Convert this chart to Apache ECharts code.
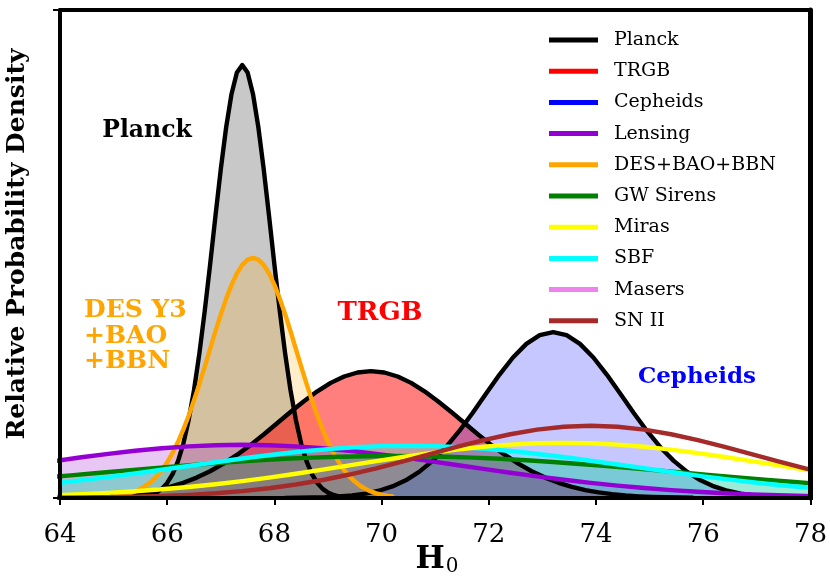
<!DOCTYPE html>
<html>
<head>
<meta charset="utf-8">
<script src="https://cdn.jsdelivr.net/npm/echarts@6.0.0/dist/echarts.min.js"></script>
<style>
  html, body { margin: 0; padding: 0; background: #fff; }
  #h0 { width: 830px; height: 578px; }
</style>
</head>
<body>
<div id="h0"></div>
<script>
// H0 sample points, one list per group of curves
var planckH0 = [65.2, 65.3, 65.4, 65.5, 65.6, 65.7, 65.8, 65.9, 66, 66.1, 66.2, 66.3, 66.4, 66.5, 66.6,
                66.7, 66.8, 66.9, 67, 67.1, 67.2, 67.3, 67.4, 67.5, 67.6, 67.7, 67.8, 67.9, 68, 68.1,
                68.2, 68.3, 68.4, 68.5, 68.6, 68.7, 68.8, 68.9, 69, 69.1, 69.2, 69.3, 69.4, 69.5, 69.6];
var desH0 = [65, 65.1, 65.2, 65.3, 65.4, 65.5, 65.6, 65.7, 65.8, 65.9, 66, 66.1, 66.2, 66.3, 66.4,
             66.5, 66.6, 66.7, 66.8, 66.9, 67, 67.1, 67.2, 67.3, 67.4, 67.5, 67.6, 67.7, 67.8, 67.9,
             68, 68.1, 68.2, 68.3, 68.4, 68.5, 68.6, 68.7, 68.8, 68.9, 69, 69.1, 69.2, 69.3, 69.4,
             69.5, 69.6, 69.7, 69.8, 69.9, 70, 70.1, 70.2];
var trgbH0 = [63.8, 64.05, 64.3, 64.55, 64.8, 65.05, 65.3, 65.55, 65.8, 66.05, 66.3, 66.55, 66.8,
              67.05, 67.3, 67.55, 67.8, 68.05, 68.3, 68.55, 68.8, 69.05, 69.3, 69.55, 69.8, 70.05,
              70.3, 70.55, 70.8, 71.05, 71.3, 71.55, 71.8, 72.05, 72.3, 72.55, 72.8, 73.05, 73.3,
              73.55, 73.8, 74.05, 74.3, 74.55, 74.8, 75.05, 75.3, 75.55, 75.8];
var cephH0 = [68.2, 68.45, 68.7, 68.95, 69.2, 69.45, 69.7, 69.95, 70.2, 70.45, 70.7, 70.95, 71.2,
              71.45, 71.7, 71.95, 72.2, 72.45, 72.7, 72.95, 73.2, 73.45, 73.7, 73.95, 74.2, 74.45,
              74.7, 74.95, 75.2, 75.45, 75.7, 75.95, 76.2, 76.45, 76.7, 76.95, 77.2, 77.45, 77.7,
              77.95, 78.2];
var gridA = [63.7, 64.2, 64.7, 65.2, 65.7, 66.2, 66.7, 67.2, 67.7, 68.2, 68.7, 69.2, 69.7, 70.2, 70.7,
             71.2, 71.7, 72.2, 72.7, 73.2, 73.7, 74.2, 74.7, 75.2, 75.7, 76.2, 76.7, 77.2, 77.7, 78.2];
var gridC = [63.9, 64.4, 64.9, 65.4, 65.9, 66.4, 66.9, 67.4, 67.9, 68.4, 68.9, 69.4, 69.9, 70.4, 70.9,
             71.4, 71.9, 72.4, 72.9, 73.4, 73.9, 74.4, 74.9, 75.4, 75.9, 76.4, 76.9, 77.4, 77.9, 78.4];
var gridD = [64, 64.5, 65, 65.5, 66, 66.5, 67, 67.5, 68, 68.5, 69, 69.5, 70, 70.5, 71,
             71.5, 72, 72.5, 73, 73.5, 74, 74.5, 75, 75.5, 76, 76.5, 77, 77.5, 78];

var planck = [0.0002, 0.0005, 0.0009, 0.0018, 0.0034, 0.0062, 0.011, 0.0187, 0.0308, 0.0489, 0.075,
              0.111, 0.160, 0.221, 0.296, 0.383, 0.478, 0.578, 0.674, 0.760, 0.828, 0.872, 0.887,
              0.872, 0.828, 0.760, 0.674, 0.578, 0.478, 0.383, 0.296, 0.221, 0.160, 0.111, 0.075,
              0.0489, 0.0308, 0.0187, 0.011, 0.0062, 0.0034, 0.0018, 0.0009, 0.0005, 0.0002];
var des = [0.0032, 0.0047, 0.0068, 0.0096, 0.0135, 0.0185, 0.0251, 0.0336, 0.0442, 0.0574, 0.0733,
           0.0923, 0.1146, 0.1401, 0.1687, 0.2001, 0.234, 0.2694, 0.3057, 0.3418, 0.3764, 0.4086,
           0.4368, 0.4602, 0.4776, 0.4884, 0.492, 0.4884, 0.4776, 0.4602, 0.4368, 0.4086, 0.3764,
           0.3418, 0.3057, 0.2694, 0.234, 0.2001, 0.1687, 0.1401, 0.1146, 0.0923, 0.0733, 0.0574,
           0.0442, 0.0336, 0.0251, 0.0185, 0.0135, 0.0096, 0.0068, 0.0047, 0.0032];
var trgb = [0.0005, 0.0009, 0.0014, 0.0022, 0.0034, 0.0052, 0.0078, 0.0114, 0.0163, 0.0228, 0.0312,
            0.0418, 0.0548, 0.0703, 0.0882, 0.1083, 0.1301, 0.1531, 0.1762, 0.1984, 0.2187, 0.2359,
            0.249, 0.2572, 0.26, 0.2572, 0.249, 0.2359, 0.2187, 0.1984, 0.1762, 0.1531, 0.1301,
            0.1083, 0.0882, 0.0703, 0.0548, 0.0418, 0.0312, 0.0228, 0.0163, 0.0114, 0.0078, 0.0052,
            0.0034, 0.0022, 0.0014, 0.0009, 0.0005];
var cepheids = [0.0002, 0.0004, 0.0009, 0.0016, 0.003, 0.0053, 0.0091, 0.0149, 0.0237, 0.0363, 0.0535,
                0.076, 0.1041, 0.1374, 0.1748, 0.2141, 0.2529, 0.2879, 0.3158, 0.3338, 0.34, 0.3338,
                0.3158, 0.2879, 0.2529, 0.2141, 0.1748, 0.1374, 0.1041, 0.076, 0.0535, 0.0363, 0.0237,
                0.0149, 0.0091, 0.0053, 0.003, 0.0016, 0.0009, 0.0004, 0.0002];
// gridA
var gwSirens = [0.0417, 0.0464, 0.0512, 0.056, 0.0608, 0.0654, 0.0697, 0.0737, 0.0773, 0.0803, 0.0827,
                0.0845, 0.0856, 0.086, 0.0856, 0.0845, 0.0827, 0.0803, 0.0773, 0.0737, 0.0697, 0.0654,
                0.0608, 0.056, 0.0512, 0.0464, 0.0417, 0.0371, 0.0328, 0.0287];
// gridC
var lensing = [0.0757, 0.0834, 0.0905, 0.0968, 0.1019, 0.1058, 0.1082, 0.109, 0.1082, 0.1058, 0.1019,
               0.0968, 0.0905, 0.0834, 0.0757, 0.0677, 0.0597, 0.0518, 0.0443, 0.0373, 0.031, 0.0254,
               0.0204, 0.0162, 0.0127, 0.0098, 0.0074, 0.0056, 0.0041, 0.003];
var miras = [0.0058, 0.0079, 0.0105, 0.0138, 0.0178, 0.0225, 0.0281, 0.0346, 0.0418, 0.0497, 0.058,
             0.0668, 0.0755, 0.084, 0.092, 0.0991, 0.1049, 0.1093, 0.1121, 0.113, 0.1121, 0.1093,
             0.1049, 0.0991, 0.092, 0.084, 0.0755, 0.0668, 0.058, 0.0497];
var snII = [0.0006, 0.001, 0.0016, 0.0027, 0.0042, 0.0065, 0.0097, 0.0142, 0.02, 0.0276, 0.0369,
            0.0481, 0.0608, 0.0749, 0.0898, 0.1046, 0.1185, 0.1306, 0.14, 0.146, 0.148, 0.146,
            0.14, 0.1306, 0.1185, 0.1046, 0.0898, 0.0749, 0.0608, 0.0481];
// gridD
var sbf = [0.0313, 0.0376, 0.0444, 0.0517, 0.0594, 0.0672, 0.0749, 0.0824, 0.0892, 0.0952, 0.1002,
           0.1039, 0.1062, 0.107, 0.1062, 0.1039, 0.1002, 0.0952, 0.0892, 0.0824, 0.0749, 0.0672,
           0.0594, 0.0517, 0.0444, 0.0376, 0.0313, 0.0257, 0.0209];

var xTicks = [64, 66, 68, 70, 72, 74, 76, 78];
var legendNames = ['Planck', 'TRGB', 'Cepheids', 'Lensing', 'DES+BAO+BBN', 'GW Sirens',
                   'Miras', 'SBF', 'Masers', 'SN II'];
var legendColors = ['#000000', '#ff0000', '#0000ff', '#9400d3', '#ffa500', '#008000',
                    '#ffff00', '#00ffff', '#ee82ee', '#a52a2a'];

function pairs(xs, ys) {
  return xs.map(function (x, i) { return [x, ys[i]]; });
}

var chart = echarts.init(document.getElementById('h0'));

// shaded areas first, outlines on top
var fills = [
  ['Planck', planckH0, planck, 'rgba(128,128,128,0.43)'],
  ['DES+BAO+BBN', desH0, des, 'rgba(255,165,0,0.2)'],
  ['TRGB', trgbH0, trgb, 'rgba(255,0,0,0.5)'],
  ['Cepheids', cephH0, cepheids, 'rgba(0,0,255,0.22)'],
  ['Lensing', gridC, lensing, 'rgba(148,0,211,0.22)'],
  ['GW Sirens', gridA, gwSirens, 'rgba(0,128,0,0.2)'],
  ['SBF', gridD, sbf, 'rgba(0,255,255,0.23)']
];
var lines = [
  ['Planck', planckH0, planck, '#000000'],
  ['TRGB', trgbH0, trgb, '#000000'],
  ['Cepheids', cephH0, cepheids, '#000000'],
  ['DES+BAO+BBN', desH0, des, '#ffa500'],
  ['Lensing', gridC, lensing, '#9400d3'],
  ['GW Sirens', gridA, gwSirens, '#008000'],
  ['SBF', gridD, sbf, '#00ffff'],
  ['Miras', gridC, miras, '#ffff00'],
  ['SN II', gridC, snII, '#a52a2a']
];

var series = [];
fills.forEach(function (f) {
  series.push({
    name: f[0] + ' area', type: 'line', showSymbol: false, silent: true, z: 2,
    data: pairs(f[1], f[2]),
    lineStyle: { width: 0 },
    areaStyle: { color: f[3], opacity: 1 }
  });
});
lines.forEach(function (l) {
  var idx = legendNames.indexOf(l[0]);
  series.push({
    name: l[0], type: 'line', showSymbol: false, z: 3,
    data: pairs(l[1], l[2]),
    itemStyle: { color: legendColors[idx] },
    lineStyle: { color: l[3], width: 4.4, join: 'round', cap: 'round' }
  });
});
series.push({ name: 'Masers', type: 'line', data: [], itemStyle: { color: '#ee82ee' } });

var serif = 'DejaVu Serif';
function label(text, x, y, size, color) {
  return { type: 'text', x: x, y: y, z: 20,
           style: { text: text, fontFamily: serif, fontWeight: 'bold', fontSize: size, fill: color,
                    align: 'center', verticalAlign: 'middle' } };
}

var option = {
  backgroundColor: '#fff',
  animation: false,
  grid: { left: 60, right: 19, top: 10, bottom: 80 },
  legend: {
    orient: 'vertical', left: 544, top: 25,
    icon: 'rect', itemWidth: 49, itemHeight: 5, itemGap: 11.2,
    textStyle: { fontFamily: serif, fontSize: 19, color: '#000', lineHeight: 20, padding: [0, 0, 0, 11] },
    data: legendNames.map(function (n, i) { return { name: n, itemStyle: { color: legendColors[i] } }; })
  },
  xAxis: [{
    type: 'value', min: xTicks[0], max: xTicks[xTicks.length - 1], interval: 2, z: 10,
    axisLine: { lineStyle: { color: '#000', width: 4 } },
    axisTick: { length: 7, lineStyle: { color: '#000', width: 2 } },
    axisLabel: { fontFamily: serif, fontSize: 26, color: '#000', margin: 24 },
    splitLine: { show: false }
  }, {
    type: 'value', position: 'top', min: 64, max: 78, z: 10,
    axisLine: { show: true, onZero: false, lineStyle: { color: '#000', width: 4 } },
    axisTick: { show: false }, axisLabel: { show: false }, splitLine: { show: false }
  }],
  yAxis: [{
    type: 'value', min: 0, max: 1, interval: 1, z: 10,
    axisLine: { show: true, onZero: false, lineStyle: { color: '#000', width: 4 } },
    axisTick: { show: true, length: 7, lineStyle: { color: '#000', width: 2 } },
    axisLabel: { show: false }, splitLine: { show: false }
  }, {
    type: 'value', position: 'right', min: 0, max: 1, z: 10,
    axisLine: { show: true, onZero: false, lineStyle: { color: '#000', width: 5 } },
    axisTick: { show: false }, axisLabel: { show: false }, splitLine: { show: false }
  }],
  graphic: [
    { type: 'text', x: 17, y: 244, rotation: Math.PI / 2,
      style: { text: 'Relative Probability Density', fontFamily: serif, fontWeight: 'bold', fontSize: 25,
               fill: '#000', align: 'center', verticalAlign: 'middle' } },
    { type: 'text', x: 437, y: 560,
      style: { text: '{a|H}{b|0}', align: 'center', verticalAlign: 'middle',
               rich: { a: { fontFamily: serif, fontWeight: 'bold', fontSize: 31, fill: '#000' },
                       b: { fontFamily: serif, fontSize: 20, fill: '#000', padding: [14, 0, 0, 1] } } } },
    label('Planck', 147, 131, 23.5, '#000000'),
    label('TRGB', 380, 313, 26, '#ff0000'),
    label('Cepheids', 697, 377, 23, '#0000ff'),
    { type: 'text', x: 84, y: 298, z: 20,
      style: { text: 'DES Y3\n+BAO\n+BBN', fontFamily: serif, fontWeight: 'bold', fontSize: 25,
               lineHeight: 25.5, fill: '#ffa500', align: 'left', verticalAlign: 'top' } }
  ],
  series: series
};
chart.setOption(option);
</script>
</body>
</html>
